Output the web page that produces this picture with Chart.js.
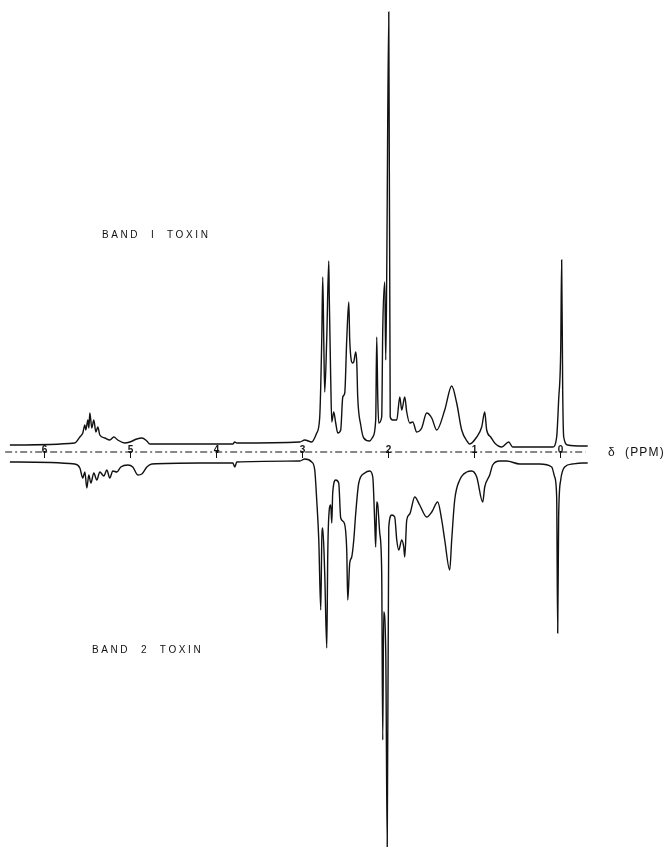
<!DOCTYPE html>
<html>
<head>
<meta charset="utf-8">
<script src="https://cdn.jsdelivr.net/npm/chart.js@4/dist/chart.umd.min.js"></script>
<style>
  html, body { margin: 0; padding: 0; background: #fff; }
  canvas { display: block; }
</style>
</head>
<body>
<canvas id="nmr" width="668" height="847"></canvas>
<script>
// chemical shift (ppm) and intensity
const upperPpm = [6.395, 5.640, 5.581, 5.547, 5.523, 5.512, 5.488, 5.477, 5.465, 5.442, 5.419, 5.395, 5.372, 5.349, 5.291, 5.233, 5.186, 5.140, 5.058, 5.000, 4.919, 4.860, 4.802, 4.767, 4.186, 3.802, 3.779, 3.756, 3.023, 2.965, 2.884, 2.826, 2.791, 2.767, 2.756, 2.744, 2.733, 2.709, 2.686, 2.680, 2.663, 2.651, 2.628, 2.605, 2.581, 2.547, 2.523, 2.500, 2.477, 2.453, 2.442, 2.407, 2.395, 2.372, 2.360, 2.349, 2.314, 2.279, 2.209, 2.174, 2.140, 2.128, 2.116, 2.105, 2.070, 2.058, 2.035, 2.023, 2.012, 1.988, 1.971, 1.942, 1.895, 1.860, 1.837, 1.802, 1.779, 1.744, 1.709, 1.663, 1.605, 1.547, 1.488, 1.430, 1.337, 1.256, 1.198, 1.140, 1.070, 1.047, 0.965, 0.907, 0.872, 0.849, 0.802, 0.756, 0.674, 0.593, 0.547, 0.081, 0.035, 0.012, -0.012, -0.023, -0.035, -0.047, -0.093, -0.267, -0.326];
const upperInt = [7, 9, 15, 19, 27, 22, 32, 24, 39, 24, 32, 20, 25, 17, 14, 12, 15, 12, 9, 10, 13, 14, 11, 8, 8, 8, 10, 9, 10, 12, 10, 19, 35, 115, 175, 112, 60, 115, 191, 155, 72, 30, 40, 29, 19, 22, 55, 59, 112, 150, 112, 89, 90, 100, 89, 55, 27, 14, 11, 15, 32, 115, 55, 29, 35, 122, 170, 92, 175, 440, 35, 32, 32, 55, 42, 55, 40, 29, 30, 20, 24, 39, 34, 22, 42, 66, 49, 22, 10, 8, 15, 25, 40, 22, 15, 9, 5, 10, 5, 5, 15, 52, 102, 192, 62, 15, 7, 6, 6];

const lowerPpm = [6.395, 5.640, 5.581, 5.547, 5.523, 5.500, 5.477, 5.453, 5.419, 5.384, 5.349, 5.302, 5.267, 5.233, 5.198, 5.151, 5.105, 5.023, 4.965, 4.907, 4.860, 4.802, 4.744, 4.186, 3.802, 3.779, 3.756, 3.023, 2.965, 2.884, 2.849, 2.826, 2.802, 2.779, 2.767, 2.756, 2.733, 2.709, 2.698, 2.686, 2.663, 2.651, 2.640, 2.605, 2.570, 2.547, 2.512, 2.477, 2.465, 2.442, 2.419, 2.395, 2.372, 2.337, 2.267, 2.209, 2.174, 2.151, 2.140, 2.128, 2.116, 2.093, 2.070, 2.058, 2.047, 2.023, 2.006, 1.988, 1.953, 1.919, 1.895, 1.872, 1.837, 1.814, 1.802, 1.779, 1.744, 1.686, 1.628, 1.547, 1.488, 1.419, 1.372, 1.337, 1.279, 1.256, 1.221, 1.163, 1.081, 1.023, 0.965, 0.895, 0.872, 0.814, 0.779, 0.698, 0.616, 0.465, 0.233, 0.093, 0.058, 0.035, 0.023, 0.012, -0.012, -0.058, -0.151, -0.267, -0.326];
const lowerInt = [-10, -12, -16, -26, -20, -36, -23, -31, -21, -28, -20, -24, -18, -26, -19, -20, -15, -13, -15, -23, -22, -15, -12, -11, -11, -15, -10, -9, -7, -10, -18, -48, -88, -158, -88, -76, -121, -196, -105, -65, -53, -71, -41, -28, -31, -66, -70, -98, -148, -111, -105, -88, -61, -31, -21, -19, -25, -71, -95, -50, -53, -81, -121, -288, -160, -200, -395, -75, -63, -65, -88, -98, -88, -95, -105, -68, -62, -45, -53, -65, -60, -50, -68, -88, -118, -88, -48, -28, -20, -19, -25, -50, -35, -23, -13, -9, -9, -12, -12, -15, -25, -45, -181, -65, -28, -15, -12, -11, -11];

const tickValues = [6, 5, 4, 3, 2, 1, 0];
const axisEnd = -0.30;
const axisStart = 6.45;

const pairs = (xs, ys) => xs.map((x, i) => ({ x: x, y: ys[i] }));

const axisPlugin = {
    id: 'ppmAxis',
    afterDatasetsDraw(chart) {
        const c = chart.ctx;
        const xs = chart.scales.x;
        const y0 = chart.scales.y.getPixelForValue(0);
        c.save();
        c.strokeStyle = '#111';
        c.fillStyle = '#111';
        c.lineWidth = 1;
        // dash-dot baseline
        c.setLineDash([7, 3, 2, 3]);
        c.beginPath();
        c.moveTo(xs.getPixelForValue(axisStart), y0);
        c.lineTo(xs.getPixelForValue(axisEnd), y0);
        c.stroke();
        c.setLineDash([]);
        c.font = 'bold 10px "Liberation Sans", Arial, sans-serif';
        c.textAlign = 'center';
        c.textBaseline = 'alphabetic';
        tickValues.forEach(v => {
            const px = Math.round(xs.getPixelForValue(v)) + 0.5;
            c.beginPath();
            c.moveTo(px, y0 - 1);
            c.lineTo(px, y0 + 6);
            c.stroke();
            c.fillText(String(v), px, y0 + 1);
        });
        c.font = '12px "Liberation Sans", Arial, sans-serif';
        c.textAlign = 'left';
        c.textBaseline = 'middle';
        c.letterSpacing = '1.2px';
        c.fillText('\u03B4  (PPM)', 608, y0 + 1);
        c.font = '10px "Liberation Sans", Arial, sans-serif';
        c.letterSpacing = '2.6px';
        c.fillText('BAND  I  TOXIN', 102, 235);
        c.fillText('BAND  2  TOXIN', 92, 650);
        c.restore();
    }
};

new Chart(document.getElementById('nmr').getContext('2d'), {
    type: 'line',
    data: {
        datasets: [
            { label: 'Band 1 toxin', data: pairs(upperPpm, upperInt) },
            { label: 'Band 2 toxin', data: pairs(lowerPpm, lowerInt) }
        ]
    },
    options: {
        responsive: false,
        animation: false,
        layout: { padding: 0 },
        elements: {
            line: { borderColor: '#111', borderWidth: 1.4, cubicInterpolationMode: 'monotone', fill: false },
            point: { radius: 0 }
        },
        scales: {
            x: { type: 'linear', reverse: true, min: -1.26, max: 6.51, display: false },
            y: { type: 'linear', min: -395, max: 452, display: false }
        },
        plugins: {
            legend: { display: false },
            tooltip: { enabled: false }
        }
    },
    plugins: [axisPlugin]
});
</script>
</body>
</html>
